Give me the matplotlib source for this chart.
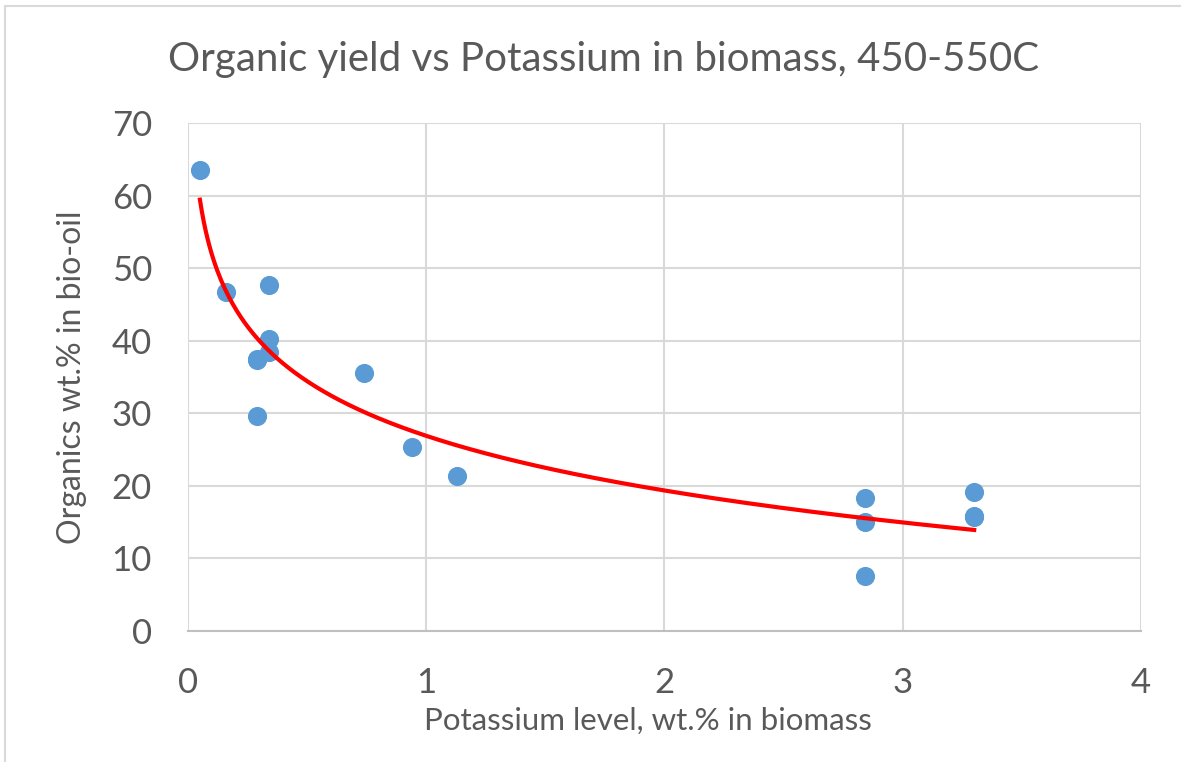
import numpy as np
import matplotlib
matplotlib.use('Agg')
from matplotlib import pyplot as plt
from matplotlib.patches import Rectangle

# potassium level (wt.% in biomass) and organics yield (wt.% in bio-oil)
potassium = [0.05, 0.16, 0.34, 0.34, 0.34, 0.29, 0.29, 0.29, 0.74, 0.94, 1.13,
             2.84, 2.84, 2.84, 3.30, 3.30, 3.30]
organics = [63.5, 46.7, 47.7, 40.2, 38.4, 37.3, 37.5, 29.6, 35.6, 25.3, 21.3,
            18.3, 15.0, 7.6, 19.2, 15.7, 15.9]

x_ticks = [0, 1, 2, 3, 4]
y_ticks = [0, 10, 20, 30, 40, 50, 60, 70]

txt = '#595959'
plt.rcParams['font.family'] = ['Lato', 'DejaVu Sans']

fig = plt.figure(figsize=(11.81, 7.62), dpi=100)
fig.patches.append(Rectangle((0.004, -0.01), 1.2, 1.002, transform=fig.transFigure,
                             fill=False, edgecolor='#d9d9d9', lw=1.5))
ax = fig.add_axes([0.1592, 0.1719, 0.8069, 0.6667])

ax.scatter(potassium, organics, s=190, color='#5b9bd5', zorder=3, linewidths=0)

# logarithmic trendline, like Excel's
b, a = np.polyfit(np.log(potassium), organics, 1)
xt = np.linspace(min(potassium), max(potassium), 400)
ax.plot(xt, a + b*np.log(xt), color='#ff0000', lw=3, zorder=4)

ax.set_xlim(0, 4)
ax.set_ylim(0, 70)
ax.set_xticks(x_ticks)
ax.set_yticks(y_ticks)
ax.grid(True, color='#d9d9d9', lw=1.5)
ax.set_axisbelow(True)
for s in ['top', 'right', 'left']:
    ax.spines[s].set_visible(False)
ax.spines['bottom'].set_color('#bfbfbf')
ax.spines['bottom'].set_linewidth(1.5)
ax.tick_params(length=0, labelsize=25, labelcolor=txt)
ax.tick_params(axis='x', pad=26)
ax.tick_params(axis='y', pad=26)

fig.text(0.511, 1 - 60/762, 'Organic yield vs Potassium in biomass, 450-550C',
         fontsize=29, color=txt, ha='center', va='center')
ax.set_xlabel('Potassium level, wt.% in biomass', fontsize=22.5, color=txt)
ax.xaxis.set_label_coords(0.483, -0.15)
ax.set_ylabel('Organics wt.% in bio-oil', fontsize=23, color=txt, labelpad=18)

fig.savefig('out.png', dpi=100)
